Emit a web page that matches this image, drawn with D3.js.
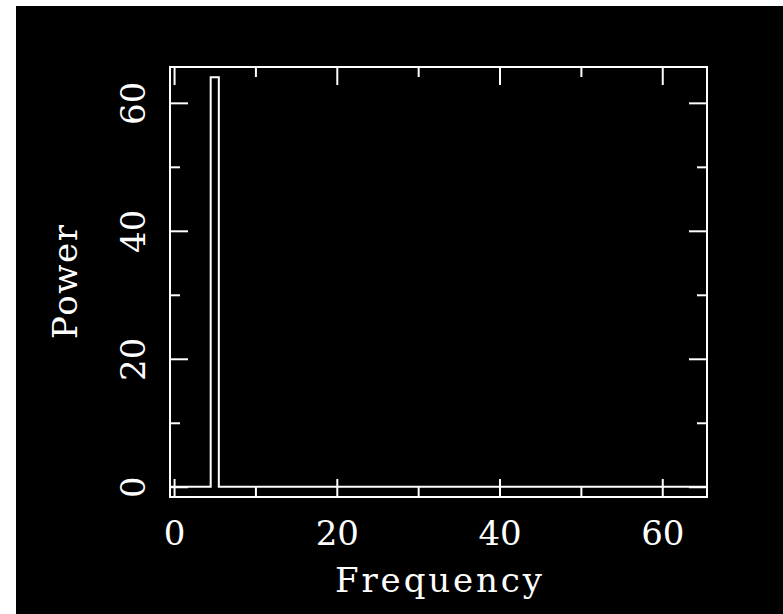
<!DOCTYPE html>
<html>
<head>
<meta charset="utf-8">
<script src="https://cdn.jsdelivr.net/npm/d3@7"></script>
<style>
  body { margin: 0; background: #fff; }
  text { font-family: "DejaVu Serif", serif; fill: #fff; }
</style>
</head>
<body>
<div id="chart"></div>
<script>
// spectrum values, one per frequency bin
const frequencies = [0, 1, 2, 3, 4, 5, 6, 7, 8, 9, 10, 11, 12, 13, 14, 15, 16, 17, 18, 19,
  20, 21, 22, 23, 24, 25, 26, 27, 28, 29, 30, 31, 32, 33, 34, 35, 36, 37, 38, 39,
  40, 41, 42, 43, 44, 45, 46, 47, 48, 49, 50, 51, 52, 53, 54, 55, 56, 57, 58, 59,
  60, 61, 62, 63, 64, 65];
const powers = [0, 0, 0, 0, 0, 64, 0, 0, 0, 0, 0, 0, 0, 0, 0, 0, 0, 0, 0, 0,
  0, 0, 0, 0, 0, 0, 0, 0, 0, 0, 0, 0, 0, 0, 0, 0, 0, 0, 0, 0,
  0, 0, 0, 0, 0, 0, 0, 0, 0, 0, 0, 0, 0, 0, 0, 0, 0, 0, 0, 0,
  0, 0, 0, 0, 0, 0];
const majorTicks = [0, 20, 40, 60];
const minorTicks = [10, 30, 50];

const width = 783, height = 614;
const plotLeft = 170, plotRight = 707, plotTop = 67, plotBottom = 497;

const svg = d3.select("#chart").append("svg")
    .attr("width", width)
    .attr("height", height);

svg.append("rect")
    .attr("x", 16).attr("y", 6)
    .attr("width", width - 16).attr("height", height - 6)
    .attr("fill", "#000");

const xscale = d3.scaleLinear().domain([-0.5, 65.5]).range([plotLeft, plotRight]);
const yscale = d3.scaleLinear().domain([-1.6, 65.6]).range([plotBottom, plotTop]);

svg.append("clipPath").attr("id", "plotclip")
  .append("rect")
    .attr("x", plotLeft).attr("y", plotTop)
    .attr("width", plotRight - plotLeft).attr("height", plotBottom - plotTop);

// histogram steps: each bin spans f-0.5 .. f+0.5
const edges = frequencies.map((f, i) => ({ x: f - 0.5, y: powers[i] }));
edges.push({ x: frequencies[frequencies.length - 1] + 0.5, y: powers[powers.length - 1] });

const step = d3.line()
    .x(d => xscale(d.x))
    .y(d => yscale(d.y))
    .curve(d3.curveStepAfter);

svg.append("path")
    .datum(edges)
    .attr("clip-path", "url(#plotclip)")
    .attr("d", step)
    .attr("fill", "none")
    .attr("stroke", "#fff")
    .attr("stroke-width", 2);

function ticks(axis, translate, values, size) {
  const g = svg.append("g")
      .attr("transform", translate)
      .call(axis.tickValues(values).tickSize(size).tickSizeOuter(0).tickFormat(""));
  g.select(".domain").remove();
  g.selectAll("line").attr("stroke", "#fff").attr("stroke-width", 2);
  return g;
}

// inward ticks on all four sides
const xb = ticks(d3.axisBottom(xscale), `translate(0,${plotBottom})`, majorTicks, -18);
ticks(d3.axisBottom(xscale), `translate(0,${plotBottom})`, minorTicks, -10);
ticks(d3.axisTop(xscale), `translate(0,${plotTop})`, majorTicks, -18);
ticks(d3.axisTop(xscale), `translate(0,${plotTop})`, minorTicks, -10);
const yl = ticks(d3.axisLeft(yscale), `translate(${plotLeft},0)`, majorTicks, -18);
ticks(d3.axisLeft(yscale), `translate(${plotLeft},0)`, minorTicks, -10);
ticks(d3.axisRight(yscale), `translate(${plotRight},0)`, majorTicks, -18);
ticks(d3.axisRight(yscale), `translate(${plotRight},0)`, minorTicks, -10);

xb.selectAll(".tick text")
    .text(d => d)
    .attr("y", 48)
    .attr("dy", 0)
    .attr("fill", "#fff")
    .style("font-size", "34px")
    .attr("text-anchor", "middle");

yl.selectAll(".tick text")
    .text(d => d)
    .attr("x", 0)
    .attr("y", -25)
    .attr("dy", 0)
    .attr("fill", "#fff")
    .attr("transform", "rotate(-90)")
    .style("font-size", "34px")
    .attr("text-anchor", "middle");

svg.append("rect")
    .attr("x", plotLeft).attr("y", plotTop)
    .attr("width", plotRight - plotLeft).attr("height", plotBottom - plotTop)
    .attr("fill", "none")
    .attr("stroke", "#fff")
    .attr("stroke-width", 2);

svg.append("text")
    .attr("x", (plotLeft + plotRight) / 2)
    .attr("y", 592)
    .attr("text-anchor", "middle")
    .attr("textLength", 207)
    .attr("lengthAdjust", "spacing")
    .style("font-size", "34px")
    .text("Frequency");

svg.append("text")
    .attr("transform", `translate(77,${(plotTop + plotBottom) / 2}) rotate(-90)`)
    .attr("text-anchor", "middle")
    .attr("textLength", 114)
    .attr("lengthAdjust", "spacing")
    .style("font-size", "34px")
    .text("Power");
</script>
</body>
</html>
